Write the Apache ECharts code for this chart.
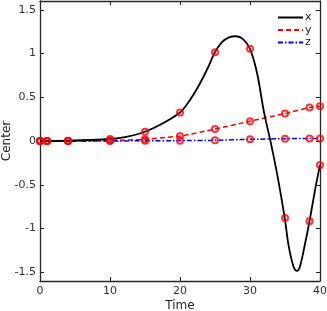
<!DOCTYPE html>
<html><head><meta charset="utf-8">
<script src="https://cdn.jsdelivr.net/npm/echarts@6/dist/echarts.min.js"></script>
<style>html,body{margin:0;padding:0;background:#fff}#c{width:327px;height:311px}</style>
</head><body><div id="c"></div>
<script>
const times = [0, 1, 4, 10, 15, 20, 25, 30, 35, 38.5, 40];
const xMarks = [0, 0, 0.003, 0.023, 0.106, 0.326, 1.015, 1.053, -0.879, -0.917, -0.273];
const yMarks = [0, 0, 0, 0.005, 0.02, 0.057, 0.136, 0.227, 0.315, 0.383, 0.398];
const zMarks = [0, 0, 0, 0, 0.003, 0.004, 0.008, 0.019, 0.026, 0.03, 0.03];
const xCurveT = [0, 4, 10, 12.5, 15, 17.5, 20, 21, 22, 23, 24, 25, 26, 27, 28, 29, 30, 31, 32, 33, 34, 35, 35.5, 36.2, 36.7, 37.15, 37.9, 38.5, 39.3, 40];
const xCurveV = [0, 0.003, 0.023, 0.05, 0.106, 0.2, 0.326, 0.42, 0.54, 0.68, 0.84, 1.015, 1.13, 1.185, 1.197, 1.165, 1.053, 0.78, 0.33, -0.03, -0.43, -0.9, -1.19, -1.43, -1.485, -1.43, -1.16, -0.917, -0.557, -0.273];
const xTicks = [0, 10, 20, 30, 40];
const yTicks = [-1.5, -1, -0.5, 0, 0.5, 1, 1.5];

const zip = (a, b) => a.map((v, i) => [v, b[i]]);
const axisColor = '#262626';
const font = 'DejaVu Sans';
const markerStyle = { color: 'rgba(0,0,0,0)', borderColor: '#ff0000', borderWidth: 2 };

const chart = echarts.init(document.getElementById('c'));
chart.setOption({
  animation: false,
  grid: { left: 40, right: 7, top: 1, bottom: 30, containLabel: false, outerBoundsMode: 'none' },
  legend: {
    orient: 'vertical', left: 277, top: 12, padding: 0, itemWidth: 25, itemHeight: 10, itemGap: 1.5,
    data: ['x', 'y', 'z'],
    itemStyle: { color: 'rgba(0,0,0,0)', borderWidth: 0, opacity: 0 },
    textStyle: { fontFamily: font, fontSize: 11, color: '#262626', padding: [0, 0, 0, -3] }
  },
  xAxis: [
    { type: 'value', min: 0, max: 40, interval: 10, name: 'Time', nameLocation: 'middle', nameGap: 19,
      nameMoveOverlap: false,
      nameTextStyle: { fontFamily: font, fontSize: 12, color: '#262626', verticalAlign: 'top' },
      axisLine: { onZero: false, lineStyle: { color: axisColor, width: 1.3 } },
      axisTick: { inside: true, length: 4, lineStyle: { color: axisColor } },
      axisLabel: { fontFamily: font, fontSize: 11, color: '#333', margin: 5 },
      splitLine: { show: false } },
    { type: 'value', position: 'top', min: 0, max: 40, interval: 10,
      axisLine: { show: true, onZero: false, lineStyle: { color: axisColor, width: 1.3 } },
      axisTick: { show: true, inside: true, length: 4, lineStyle: { color: axisColor } },
      axisLabel: { show: false }, splitLine: { show: false } }
  ],
  yAxis: [
    { type: 'value', min: -1.6, max: 1.6, name: 'Center', nameLocation: 'middle', nameGap: 27,
      nameMoveOverlap: false,
      nameTextStyle: { fontFamily: font, fontSize: 12, color: '#262626' },
      axisLine: { show: true, onZero: false, lineStyle: { color: axisColor, width: 1.3 } },
      axisTick: { show: true, inside: true, length: 4, customValues: yTicks, lineStyle: { color: axisColor } },
      axisLabel: { fontFamily: font, fontSize: 11, color: '#333', margin: 4, customValues: yTicks,
        formatter: v => String(v) },
      splitLine: { show: false } },
    { type: 'value', position: 'right', min: -1.6, max: 1.6,
      axisLine: { show: true, onZero: false, lineStyle: { color: axisColor, width: 1.3 } },
      axisTick: { show: true, inside: true, length: 4, customValues: yTicks, lineStyle: { color: axisColor } },
      axisLabel: { show: false }, splitLine: { show: false } }
  ],
  series: [
    { name: 'x', type: 'line', data: zip(xCurveT, xCurveV), smooth: 0.35, symbol: 'none',
      lineStyle: { color: '#000', width: 1.8 }, itemStyle: { color: '#000' }, z: 3 },
    { name: 'y', type: 'line', data: zip(times, yMarks), smooth: 0.2, symbol: 'none',
      lineStyle: { color: '#ff0000', width: 1.5, type: [5, 3] }, itemStyle: { color: '#ff0000' }, z: 2 },
    { name: 'z', type: 'line', data: zip(times, zMarks), smooth: 0.2, symbol: 'none',
      lineStyle: { color: '#0000ff', width: 1.5, type: [5, 2, 1.5, 2] }, itemStyle: { color: '#0000ff' }, z: 2 },
    { name: 'xm', type: 'scatter', data: zip(times, xMarks), symbol: 'circle', symbolSize: 6, itemStyle: markerStyle, z: 5 },
    { name: 'ym', type: 'scatter', data: zip(times, yMarks), symbol: 'circle', symbolSize: 6, itemStyle: markerStyle, z: 5 },
    { name: 'zm', type: 'scatter', data: zip(times, zMarks), symbol: 'circle', symbolSize: 6, itemStyle: markerStyle, z: 5 }
  ]
});
</script></body></html>
